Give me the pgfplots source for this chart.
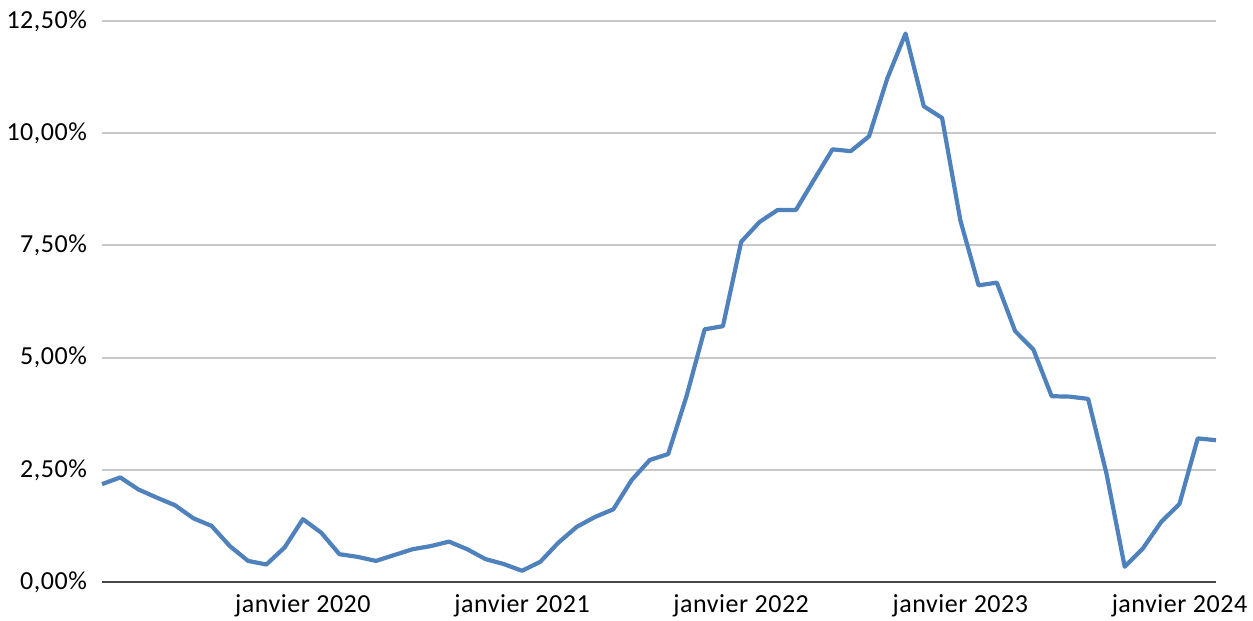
\documentclass[border=0pt]{standalone}
\usepackage{fontspec}
\setmainfont{Carlito}
\usepackage{pgfplots}
\pgfplotsset{compat=1.18}
\definecolor{lineblue}{HTML}{4F81BD}
\definecolor{gridgray}{HTML}{C8C8C8}
\begin{document}
\fontsize{13}{15}\selectfont
\begin{tikzpicture}
\begin{axis}[
  scale only axis,
  width=557pt, height=280.5pt,
  xmin=1, xmax=62, ymin=0, ymax=12.5,
  clip=false,
  axis x line*=bottom, axis y line*=left,
  y axis line style={draw=none},
  x axis line style={draw=black!72, line width=1pt, -},
  ymajorgrids,
  grid style={gridgray, line width=1pt},
  major tick length=0pt,
  xtick={12,24,36,48,60},
  xticklabels={janvier 2020,janvier 2021,janvier 2022,janvier 2023,janvier 2024},
  ytick={0,2.5,5,7.5,10,12.5},
  yticklabels={{0,00\%},{2,50\%},{5,00\%},{7,50\%},{10,00\%},{12,50\%}},
  ticklabel style={font=\fontsize{13}{15}\selectfont\addfontfeatures{LetterSpace=2}, text=black},
  yticklabel style={xshift=-3pt},
  xticklabel style={yshift=-2pt},
]
\addplot[color=lineblue, line width=2.1pt, line join=round, no markers] coordinates {
(1,2.18) (2,2.33) (3,2.06) (4,1.88) (5,1.71) (6,1.42) (7,1.25) (8,0.80)
(9,0.47) (10,0.39) (11,0.77) (12,1.40) (13,1.10) (14,0.62) (15,0.56) (16,0.47)
(17,0.60) (18,0.73) (19,0.80) (20,0.90) (21,0.73) (22,0.51) (23,0.40) (24,0.25)
(25,0.45) (26,0.88) (27,1.23) (28,1.45) (29,1.62) (30,2.27) (31,2.72) (32,2.85)
(33,4.13) (34,5.63) (35,5.70) (36,7.58) (37,8.02) (38,8.29) (39,8.29) (40,8.97)
(41,9.64) (42,9.60) (43,9.93) (44,11.22) (45,12.22) (46,10.60) (47,10.34) (48,8.06)
(49,6.61) (50,6.67) (51,5.59) (52,5.18) (53,4.14) (54,4.13) (55,4.08) (56,2.42)
(57,0.34) (58,0.75) (59,1.34) (60,1.74) (61,3.20) (62,3.16)
};
\end{axis}
\pgfresetboundingbox
\useasboundingbox ([xshift=-51pt,yshift=-19pt]current axis.south west) rectangle ([xshift=18.5pt,yshift=10.5pt]current axis.north east);
\end{tikzpicture}
\end{document}
